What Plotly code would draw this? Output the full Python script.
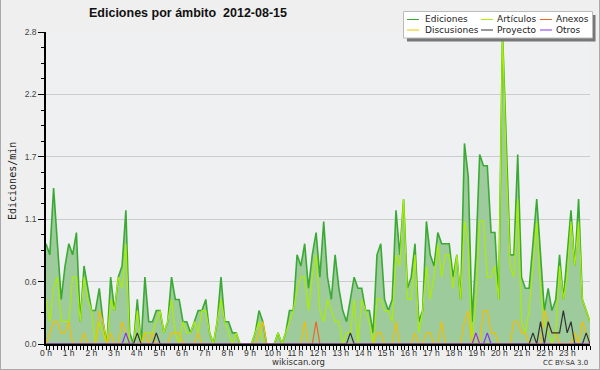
import plotly.graph_objects as go

# ---------------- data (edits per minute, 10-minute bins, 2012-08-15) ----------------
hour_labels = [f"{h} h" for h in range(24)]

ediciones = [
    0.9, 0.8, 1.4, 0.9, 0.4, 0.7,   # 0 h
    0.9, 0.8, 1.0, 0.2, 0.7, 0.5,   # 1 h
    0.3, 0.3, 0.5, 0.2, 0.0, 0.6,   # 2 h
    0.3, 0.6, 0.7, 1.2, 0.1, 0.0,   # 3 h
    0.4, 0.0, 0.6, 0.2, 0.2, 0.3,   # 4 h
    0.3, 0.1, 0.2, 0.6, 0.4, 0.4,   # 5 h
    0.2, 0.2, 0.1, 0.2, 0.3, 0.3,   # 6 h
    0.4, 0.1, 0.0, 0.2, 0.6, 0.2,   # 7 h
    0.2, 0.1, 0.1, 0.0, 0.0, 0.0,   # 8 h
    0.0, 0.1, 0.3, 0.2, 0.0, 0.0,   # 9 h
    0.0, 0.1, 0.0, 0.1, 0.3, 0.3,   # 10 h
    0.8, 0.7, 0.9, 0.5, 0.8, 1.0,   # 11 h
    0.6, 1.1, 0.6, 0.4, 0.8, 0.5,   # 12 h
    0.3, 0.2, 0.4, 0.6, 0.5, 0.5,   # 13 h
    0.3, 0.3, 0.1, 0.8, 0.9, 0.4,   # 14 h
    0.3, 0.4, 1.2, 0.8, 1.3, 0.5,   # 15 h
    0.6, 0.9, 0.2, 0.3, 1.1, 0.8,   # 16 h
    0.7, 1.0, 0.9, 0.9, 0.9, 0.6,   # 17 h
    0.8, 0.4, 1.8, 1.5, 0.2, 0.8,   # 18 h
    1.7, 1.6, 1.6, 1.0, 1.0, 0.4,   # 19 h
    2.8, 1.8, 0.8, 0.8, 1.7, 0.6,   # 20 h
    0.5, 0.5, 0.9, 1.3, 0.8, 0.3,   # 21 h
    0.5, 0.3, 0.4, 0.8, 0.4, 0.8,   # 22 h
    1.2, 0.7, 1.3, 0.4, 0.3, 0.2,   # 23 h
]

articulos = [
    0.4, 0.2, 0.5, 0.6, 0.2, 0.2,
    0.2, 0.6, 0.6, 0.2, 0.6, 0.4,
    0.3, 0.0, 0.2, 0.1, 0.0, 0.4,
    0.3, 0.6, 0.5, 0.9, 0.0, 0.0,
    0.3, 0.0, 0.1, 0.1, 0.1, 0.2,
    0.3, 0.1, 0.2, 0.4, 0.1, 0.0,
    0.2, 0.1, 0.1, 0.2, 0.1, 0.3,
    0.3, 0.1, 0.0, 0.2, 0.4, 0.2,
    0.1, 0.0, 0.1, 0.0, 0.0, 0.0,
    0.0, 0.1, 0.2, 0.0, 0.0, 0.0,
    0.0, 0.1, 0.0, 0.1, 0.2, 0.3,
    0.5, 0.6, 0.6, 0.3, 0.6, 0.8,
    0.3, 0.2, 0.4, 0.3, 0.2, 0.2,
    0.0, 0.1, 0.1, 0.4, 0.0, 0.4,
    0.3, 0.2, 0.0, 0.4, 0.4, 0.3,
    0.3, 0.2, 0.8, 0.7, 1.3, 0.4,
    0.4, 0.8, 0.1, 0.3, 0.7, 0.4,
    0.6, 0.9, 0.6, 0.8, 0.8, 0.5,
    0.8, 0.4, 1.1, 0.9, 0.0, 0.4,
    1.1, 1.1, 0.6, 0.6, 0.7, 0.4,
    2.8, 1.6, 0.7, 0.6, 1.3, 0.2,
    0.1, 0.3, 0.7, 1.1, 0.5, 0.2,
    0.1, 0.0, 0.1, 0.7, 0.4, 0.6,
    1.1, 0.7, 1.1, 0.4, 0.3, 0.2,
]

discusiones = [
    0.0, 0.1, 0.2, 0.2, 0.1, 0.1,
    0.2, 0.0, 0.0, 0.0, 0.1, 0.0,
    0.0, 0.0, 0.3, 0.2, 0.0, 0.1,
    0.0, 0.0, 0.2, 0.1, 0.0, 0.0,
    0.0, 0.0, 0.1, 0.0, 0.1, 0.0,
    0.0, 0.0, 0.0, 0.1, 0.1, 0.1,
    0.0, 0.0, 0.0, 0.0, 0.1, 0.0,
    0.0, 0.0, 0.0, 0.0, 0.0, 0.0,
    0.0, 0.0, 0.0, 0.0, 0.0, 0.0,
    0.0, 0.0, 0.1, 0.2, 0.0, 0.0,
    0.0, 0.0, 0.0, 0.0, 0.0, 0.0,
    0.0, 0.0, 0.2, 0.0, 0.0, 0.0,
    0.0, 0.0, 0.0, 0.0, 0.0, 0.0,
    0.0, 0.0, 0.0, 0.0, 0.0, 0.0,
    0.0, 0.0, 0.0, 0.1, 0.1, 0.0,
    0.0, 0.0, 0.2, 0.0, 0.0, 0.0,
    0.0, 0.1, 0.0, 0.0, 0.1, 0.1,
    0.0, 0.0, 0.2, 0.0, 0.0, 0.0,
    0.0, 0.0, 0.2, 0.3, 0.0, 0.1,
    0.0, 0.3, 0.3, 0.1, 0.1, 0.0,
    0.0, 0.0, 0.0, 0.2, 0.2, 0.1,
    0.1, 0.0, 0.0, 0.0, 0.0, 0.3,
    0.2, 0.1, 0.1, 0.0, 0.0, 0.0,
    0.0, 0.1, 0.0, 0.2, 0.1, 0.0,
]

anexos = [
    0, 0, 0, 0, 0, 0,  0, 0, 0, 0, 0, 0,  0, 0, 0, 0, 0, 0,  0, 0, 0, 0, 0, 0,
    0, 0, 0, 0, 0, 0,  0, 0, 0, 0, 0, 0,  0, 0, 0, 0, 0, 0,  0, 0, 0, 0, 0, 0,
    0, 0, 0, 0, 0, 0,  0, 0, 0, 0, 0, 0,  0, 0, 0, 0, 0, 0,  0, 0, 0, 0, 0, 0.2,
    0, 0, 0, 0, 0, 0,  0, 0, 0, 0, 0, 0,  0, 0, 0, 0, 0, 0,  0, 0, 0, 0, 0, 0,
    0, 0, 0, 0, 0, 0,  0, 0, 0, 0, 0, 0,  0, 0, 0, 0, 0, 0,  0, 0, 0, 0, 0, 0,
    0, 0, 0, 0, 0, 0,  0, 0, 0, 0, 0, 0,  0, 0, 0, 0, 0, 0,  0, 0, 0, 0, 0, 0,
]

proyecto = [
    0, 0, 0, 0, 0, 0,  0, 0, 0, 0, 0, 0,  0, 0, 0, 0, 0, 0,  0, 0, 0, 0, 0, 0,
    0.1, 0, 0, 0, 0, 0.1,  0, 0, 0, 0, 0, 0,  0, 0, 0, 0, 0, 0,  0, 0, 0, 0, 0, 0,
    0, 0, 0, 0, 0, 0,  0, 0, 0, 0, 0, 0,  0, 0, 0, 0, 0, 0,  0, 0, 0, 0, 0, 0,
    0, 0, 0, 0, 0, 0,  0, 0, 0.1, 0, 0, 0,  0, 0, 0, 0, 0, 0,  0, 0, 0, 0, 0, 0,
    0, 0, 0, 0, 0, 0,  0, 0, 0, 0, 0, 0,  0, 0, 0, 0, 0, 0,  0, 0, 0, 0, 0, 0,
    0, 0, 0, 0, 0, 0,  0, 0, 0.1, 0, 0.2, 0,  0.2, 0.1, 0.1, 0.1, 0.3, 0.1,  0.2, 0, 0, 0, 0.1, 0,
]

otros = [
    0, 0, 0, 0, 0, 0,  0, 0, 0, 0, 0, 0,  0, 0, 0, 0, 0, 0,  0, 0, 0, 0.1, 0, 0,
    0, 0, 0, 0, 0, 0,  0, 0, 0, 0, 0, 0,  0, 0, 0, 0, 0, 0,  0, 0, 0, 0, 0, 0,
    0, 0, 0, 0, 0, 0,  0, 0, 0, 0, 0, 0,  0, 0, 0, 0, 0, 0,  0, 0, 0, 0, 0, 0,
    0, 0, 0, 0, 0, 0,  0, 0, 0, 0, 0, 0,  0, 0, 0, 0, 0, 0,  0, 0, 0, 0, 0, 0,
    0, 0, 0, 0, 0, 0,  0, 0, 0, 0, 0, 0,  0, 0, 0, 0, 0, 0.1,  0, 0, 0.1, 0, 0, 0,
    0, 0, 0, 0, 0, 0,  0, 0, 0, 0, 0, 0,  0, 0, 0, 0, 0, 0,  0, 0, 0, 0, 0, 0,
]

y_tickvals = [0, 0.56, 1.12, 1.68, 2.24, 2.8]
y_ticktext = ["0.0", "0.6", "1.1", "1.7", "2.2", "2.8"]

series_colors = {
    "Ediciones": "#3aaa35",
    "Artículos": "#aaee00",
    "Anexos": "#ee6622",
    "Discusiones": "#f2c000",
    "Proyecto": "#333333",
    "Otros": "#8833ee",
}

# ---------------- figure ----------------
N = len(ediciones)
x = [i * 24 / (N - 1) for i in range(N)]

W, H = 600, 370
ML, MR, MT, MB = 46, 10, 32, 26
PW, PH = W - ML - MR, H - MT - MB


def px(xp):
    return (xp - ML) / PW


def py(yp):
    return (H - MB - yp) / PH


fig = go.Figure()
fig.add_trace(go.Scatter(x=x, y=ediciones, name="Ediciones", mode="lines",
                         fill="tozeroy", fillcolor="#9ecb9b",
                         line=dict(color=series_colors["Ediciones"], width=1.6)))
for name, vals in [("Artículos", articulos), ("Discusiones", discusiones),
                   ("Anexos", anexos), ("Proyecto", proyecto), ("Otros", otros)]:
    fig.add_trace(go.Scatter(x=x, y=vals, name=name, mode="lines",
                             line=dict(color=series_colors[name], width=1.2)))

fig.update_traces(showlegend=False, hoverinfo="x+y+name")

font_main = "DejaVu Sans"
font_tick = "Liberation Sans"

fig.update_layout(
    width=W, height=H,
    margin=dict(l=ML, r=MR, t=MT, b=MB, pad=0),
    paper_bgcolor="#efefef",
    plot_bgcolor="#eef0f2",
    showlegend=False,
    font=dict(family=font_main, size=9, color="#333333"),
    xaxis=dict(
        range=[0, 24], tickmode="array", tickvals=list(range(24)), ticktext=hour_labels,
        ticks="outside", ticklen=4, tickwidth=1, tickcolor="black",
        showline=True, linecolor="black", linewidth=1.5,
        showgrid=False, zeroline=False, ticklabelstandoff=-4,
        tickfont=dict(size=8.5, color="#333333", family=font_tick),
        minor=dict(tickmode="linear", tick0=0, dtick=1 / 6, ticks="outside",
                   ticklen=4, tickwidth=1, tickcolor="black", showgrid=False),
        fixedrange=True,
    ),
    yaxis=dict(
        range=[0, 2.8], tickmode="array", tickvals=y_tickvals, ticktext=y_ticktext,
        ticks="outside", ticklen=6, tickwidth=1, tickcolor="black",
        showline=True, linecolor="black", linewidth=1.5,
        showgrid=True, gridcolor="#cccccc", gridwidth=1, zeroline=False,
        tickfont=dict(size=8.5, color="#444444", family=font_tick),
        minor=dict(tickmode="linear", tick0=0, dtick=0.14, ticks="outside",
                   ticklen=3, tickwidth=1, tickcolor="black", showgrid=False),
        fixedrange=True,
    ),
)

shapes = []
# legend box with shadow
shapes.append(dict(type="rect", xref="paper", yref="paper", layer="above",
                   x0=px(407), x1=px(595.5), y0=py(41.5), y1=py(15),
                   fillcolor="#777777", line=dict(width=0)))
shapes.append(dict(type="rect", xref="paper", yref="paper", layer="above",
                   x0=px(403.5), x1=px(592.5), y0=py(38), y1=py(11.5),
                   fillcolor="white", line=dict(color="#bbbbbb", width=1)))

legend_layout = [
    ("Ediciones", 407, 424, 19.5), ("Artículos", 481, 496, 19.5), ("Anexos", 540, 555, 19.5),
    ("Discusiones", 407, 424, 30), ("Proyecto", 481, 496, 30), ("Otros", 540, 555, 30),
]
annotations = []
for name, lx, tx, ly in legend_layout:
    shapes.append(dict(type="line", xref="paper", yref="paper", layer="above",
                       x0=px(lx), x1=px(lx + 12), y0=py(ly), y1=py(ly),
                       line=dict(color=series_colors[name], width=1)))
    annotations.append(dict(text=name, xref="paper", yref="paper", x=px(tx), y=py(ly),
                            xanchor="left", yanchor="middle", showarrow=False,
                            font=dict(family=font_main, size=9, color="#222222"),
                            borderpad=0))

# outer frame (left, right, bottom)
shapes.append(dict(type="line", xref="paper", yref="paper", x0=px(0.5), x1=px(0.5),
                   y0=py(0), y1=py(369.5), line=dict(color="#aaaaaa", width=1)))
shapes.append(dict(type="line", xref="paper", yref="paper", x0=px(599.5), x1=px(599.5),
                   y0=py(0), y1=py(369.5), line=dict(color="#aaaaaa", width=1)))
shapes.append(dict(type="line", xref="paper", yref="paper", x0=px(0), x1=px(600),
                   y0=py(369.5), y1=py(369.5), line=dict(color="#aaaaaa", width=1)))

annotations += [
    dict(text="Ediciones por ámbito \u00a02012-08-15", xref="paper", yref="paper",
         x=px(188), y=py(13), xanchor="center", yanchor="middle", showarrow=False,
         font=dict(family="Liberation Sans", size=12.5, color="#111111", weight="bold")),
    dict(text="Ediciones/min", xref="paper", yref="paper", x=px(12), y=py(181),
         xanchor="center", yanchor="middle", textangle=-90, showarrow=False,
         font=dict(family="DejaVu Sans Mono", size=10, color="#222222")),
    dict(text="wikiscan.org", xref="paper", yref="paper", x=px(298), y=py(362),
         xanchor="center", yanchor="middle", showarrow=False,
         font=dict(family=font_main, size=8.5, color="#333333")),
    dict(text="CC BY-SA 3.0", xref="paper", yref="paper", x=px(590), y=py(362.5),
         xanchor="right", yanchor="middle", showarrow=False,
         font=dict(family=font_main, size=7, color="#333333")),
]

fig.update_layout(shapes=shapes, annotations=annotations)

fig.write_html("out.html", config={"displayModeBar": False},
               post_script="document.body.style.margin='0';document.body.style.padding='0';")
